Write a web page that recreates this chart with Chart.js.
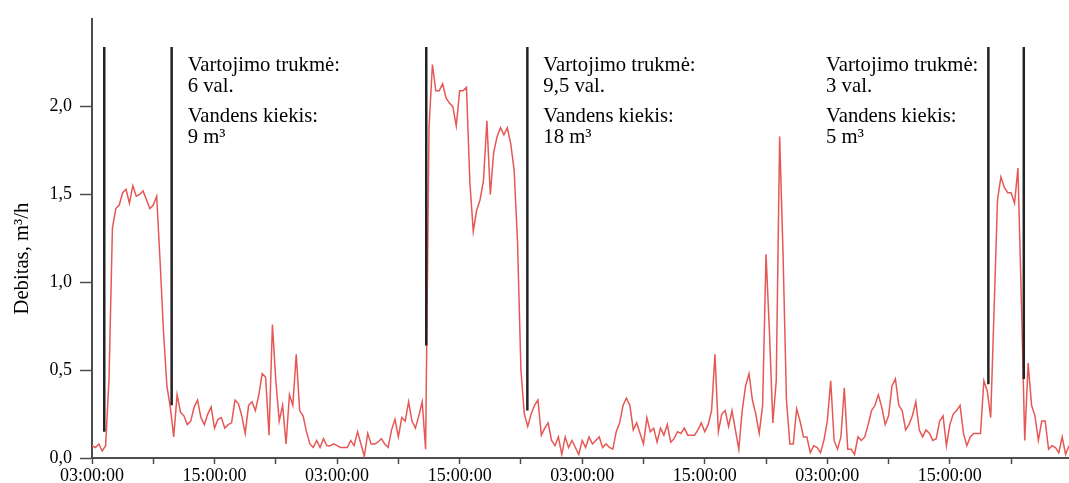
<!DOCTYPE html>
<html>
<head>
<meta charset="utf-8">
<script src="https://cdn.jsdelivr.net/npm/chart.js@4.4.1/dist/chart.umd.min.js"></script>
<style>
  html, body { margin: 0; padding: 0; background: #fff; }
  #wrap { width: 1069px; height: 483px; }
</style>
</head>
<body>
<div id="wrap"><canvas id="c" width="1069" height="483"></canvas></div>
<script>
// Flow logger readings, one value every 20 minutes starting at 03:00:00 (m³/h)
const SAMPLE_STEP_H = 1 / 3;
const flow = [
  0.07,0.06,0.08,0.04,0.07,0.45,1.31,1.42,1.44,1.51,1.53,1.45,
  1.55,1.49,1.50,1.52,1.47,1.42,1.44,1.49,1.12,0.72,0.41,0.29,
  0.12,0.36,0.26,0.24,0.19,0.21,0.29,0.33,0.23,0.19,0.25,0.29,
  0.17,0.22,0.23,0.17,0.19,0.20,0.33,0.31,0.24,0.14,0.30,0.32,
  0.27,0.36,0.48,0.46,0.13,0.76,0.44,0.21,0.30,0.08,0.36,0.30,
  0.59,0.27,0.24,0.15,0.08,0.06,0.10,0.06,0.11,0.07,0.07,0.08,
  0.07,0.06,0.06,0.06,0.10,0.07,0.15,0.08,0.01,0.14,0.08,0.08,
  0.09,0.11,0.08,0.06,0.16,0.22,0.12,0.23,0.21,0.32,0.21,0.17,
  0.24,0.32,0.05,1.88,2.24,2.09,2.09,2.13,2.05,2.02,2.00,1.89,
  2.09,2.09,2.11,1.57,1.29,1.41,1.47,1.58,1.92,1.50,1.74,1.83,
  1.88,1.84,1.88,1.79,1.64,1.23,0.50,0.25,0.18,0.25,0.30,0.33,
  0.13,0.17,0.20,0.10,0.07,0.12,0.02,0.12,0.06,0.10,0.06,0.02,
  0.10,0.06,0.12,0.08,0.10,0.12,0.06,0.08,0.06,0.05,0.15,0.20,
  0.30,0.34,0.30,0.16,0.20,0.14,0.08,0.23,0.15,0.17,0.09,0.17,
  0.13,0.19,0.09,0.11,0.15,0.14,0.17,0.13,0.13,0.13,0.16,0.20,
  0.15,0.19,0.27,0.59,0.15,0.25,0.27,0.18,0.27,0.16,0.05,0.27,
  0.41,0.48,0.33,0.25,0.14,0.30,1.16,0.72,0.20,0.44,1.83,1.16,
  0.33,0.08,0.08,0.28,0.21,0.12,0.12,0.03,0.07,0.06,0.03,0.10,
  0.21,0.44,0.10,0.05,0.12,0.40,0.05,0.05,0.02,0.12,0.10,0.12,
  0.19,0.27,0.30,0.36,0.29,0.19,0.24,0.41,0.45,0.30,0.27,0.16,
  0.19,0.24,0.32,0.16,0.12,0.16,0.14,0.10,0.11,0.21,0.24,0.07,
  0.19,0.25,0.27,0.30,0.14,0.07,0.12,0.14,0.14,0.14,0.44,0.38,
  0.23,0.85,1.47,1.60,1.54,1.51,1.51,1.45,1.65,0.90,0.10,0.54,
  0.30,0.24,0.10,0.21,0.21,0.05,0.07,0.06,0.03,0.12,0.02,0.07
];

// Time axis labels (every 12 h), value axis ticks
const tickLabels = ['03:00:00', '15:00:00'];
const yTickValues = [0, 0.5, 1.0, 1.5, 2.0];
const yTitle = 'Debitas, m³/h';

// Start/end markers of each consumption period (hours since 03:00:00)
const markerHours   = [1.20, 7.80, 32.73, 42.63, 87.77, 91.24];
const markerBottoms = [0.15, 0.30, 0.64, 0.27, 0.42, 0.45];
const markerTop = 2.34;

// Period summaries
const durationLabel = 'Vartojimo trukmė:';
const volumeLabel = 'Vandens kiekis:';
const durations = ['6 val.', '9,5 val.', '3 val.'];
const volumes = ['9 m³', '18 m³', '5 m³'];
// marker each note is attached to, and which side of it the text sits
const noteMarker = [1, 3, 4];
const noteSide = ['after', 'after', 'before'];

const SERIF = '"Liberation Serif", "Times New Roman", serif';

const flowPoints = flow.map((v, i) => ({ x: i * SAMPLE_STEP_H, y: v }));
const markerPoints = [];
markerHours.forEach((h, k) => {
  markerPoints.push({ x: h, y: markerBottoms[k] });
  markerPoints.push({ x: h, y: markerTop });
  markerPoints.push({ x: h, y: null });
});

const notesPlugin = {
  id: 'periodNotes',
  afterDatasetsDraw(chart) {
    const { ctx, scales } = chart;
    const xs = scales.x, ys = scales.y;
    const topPx = ys.getPixelForValue(markerTop);
    ctx.save();
    ctx.font = '20.7px ' + SERIF;
    ctx.fillStyle = '#000';
    ctx.textAlign = 'left';
    ctx.textBaseline = 'alphabetic';
    durations.forEach((d, n) => {
      const lines = [durationLabel, d, volumeLabel, volumes[n]];
      const mx = xs.getPixelForValue(markerHours[noteMarker[n]]);
      const w = Math.max(...lines.map(t => ctx.measureText(t).width));
      const left = noteSide[n] === 'after' ? mx + 16 : mx - 10 - w;
      const offs = [24, 45, 75, 96];
      lines.forEach((t, j) => ctx.fillText(t, left, topPx + offs[j]));
    });
    ctx.restore();
  }
};

const yTitlePlugin = {
  id: 'yTitle',
  afterDraw(chart) {
    const { ctx, chartArea } = chart;
    ctx.save();
    ctx.font = '20.7px ' + SERIF;
    ctx.fillStyle = '#000';
    ctx.translate(27.5, chartArea.top + 0.546 * (chartArea.bottom - chartArea.top));
    ctx.rotate(-Math.PI / 2);
    ctx.textAlign = 'center';
    ctx.textBaseline = 'alphabetic';
    ctx.fillText(yTitle, 0, 0);
    ctx.restore();
  }
};

new Chart(document.getElementById('c'), {
  type: 'line',
  data: {
    datasets: [
      {
        data: markerPoints,
        borderColor: '#222',
        borderWidth: 2.5,
        pointRadius: 0,
        spanGaps: false,
        order: 0
      },
      {
        data: flowPoints,
        borderColor: 'rgb(229, 88, 85)',
        borderWidth: 1.5,
        pointRadius: 0,
        tension: 0,
        order: 1
      }
    ]
  },
  options: {
    responsive: false,
    animation: false,
    devicePixelRatio: 1,
    layout: { padding: { top: 15, left: 0, right: 0, bottom: 0 } },
    plugins: { legend: { display: false }, tooltip: { enabled: false } },
    scales: {
      x: {
        type: 'linear',
        min: 0,
        max: (flow.length - 1) * SAMPLE_STEP_H,
        grid: { drawOnChartArea: false, drawTicks: true, tickLength: 6, tickWidth: 1.5, tickColor: '#4d4d4d' },
        border: { color: '#4d4d4d', width: 2 },
        ticks: {
          stepSize: 6,
          includeBounds: false,
          autoSkip: false,
          maxRotation: 0,
          padding: 1,
          color: '#000',
          font: { family: SERIF, size: 18 },
          callback: v => (v % 12 === 0 ? tickLabels[(v / 12) % 2] : '')
        },
        afterFit: s => { s.height = 25; }
      },
      y: {
        min: 0,
        max: 2.5,
        grid: { drawOnChartArea: false, drawTicks: true, tickLength: 12, tickWidth: 1.5, tickColor: '#4d4d4d' },
        border: { color: '#4d4d4d', width: 2 },
        afterBuildTicks: s => { s.ticks = yTickValues.map(v => ({ value: v })); },
        ticks: {
          padding: 8,
          color: '#000',
          font: { family: SERIF, size: 18 },
          callback: v => v.toFixed(1).replace('.', ',')
        },
        afterFit: s => { s.width = 92; }
      }
    }
  },
  plugins: [notesPlugin, yTitlePlugin]
});
</script>
</body>
</html>
